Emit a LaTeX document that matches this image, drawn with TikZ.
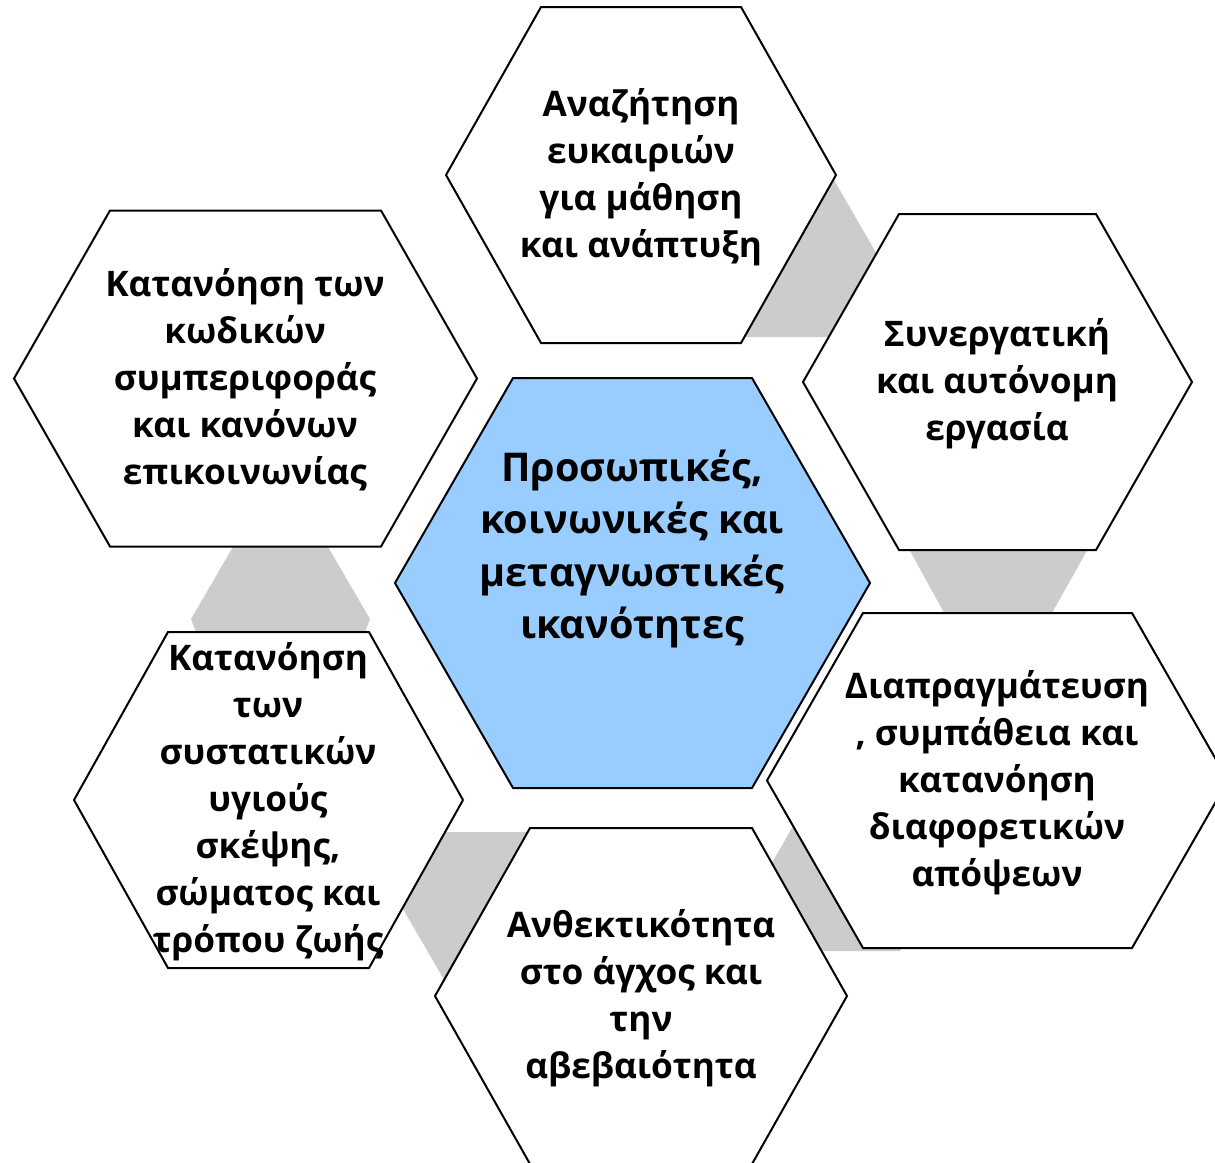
\documentclass[tikz,border=0pt]{standalone}
\usepackage{fontspec}
\setmainfont{Open Sans}
\definecolor{centerblue}{RGB}{153,204,255}
\definecolor{linkgrey}{RGB}{204,204,204}
\tikzset{
  hexline/.style={draw=black, line width=1pt, line join=miter, fill=white},
  centerhex/.style={hexline, fill=centerblue},
  link/.style={fill=linkgrey, draw=none},
  hextext/.style={align=center, font=\fontsize{17.6}{23.5}\selectfont\bfseries, inner sep=0pt},
  centertext/.style={align=center, font=\fontsize{19.8}{26.3}\selectfont\bfseries, inner sep=0pt}
}
% #1 style, #2 cx, #3 cy, #4 half width, #5 half height, #6 slant offset
\newcommand\hexagonshape[6]{%
  \path[#1] (#2-#4,#3) -- (#2-#4+#6,#3-#5) -- (#2+#4-#6,#3-#5) -- (#2+#4,#3)
    -- (#2+#4-#6,#3+#5) -- (#2-#4+#6,#3+#5) -- cycle;}
\begin{document}
\begin{tikzpicture}[x=0.5pt,y=-0.5pt]
\path[use as bounding box] (0,0) rectangle (1215,1162);
\clip (0,0) rectangle (1215,1162);
% grey links
\path[link] (826,166) -- (890,277) -- (860,337) -- (720,337) -- cycle;
\path[link] (904,540) -- (1093,540) -- (1048,620) -- (948,620) -- cycle;
\path[link] (808,800) -- (765,875) -- (790,951) -- (900,951) -- (910,935) -- cycle;
\path[link] (440,832) -- (560,832) -- (560,900) -- (450,990) -- (392,890) -- cycle;
\path[link] (237,540) -- (324,540) -- (370,619) -- (362,640) -- (199,640) -- (191,619) -- cycle;
% hexagons
\hexagonshape{hexline}{641}{175}{195}{168}{95}
\hexagonshape{hexline}{997.5}{382}{194.5}{168}{96}
\hexagonshape{hexline}{997.5}{780.5}{230.5}{167.5}{96}
\hexagonshape{hexline}{641}{996}{206}{168}{95}
\hexagonshape{hexline}{268.5}{800}{194.5}{168}{94}
\hexagonshape{hexline}{245.5}{378.5}{231.5}{168}{96}
\hexagonshape{centerhex}{632.5}{583}{237.5}{205}{118}
% texts
\node[centertext] (center) at (632,549) {Προσωπικές,\\κοινωνικές και\\μεταγνωστικές\\ικανότητες};
\node[hextext] (top) at (641,177) {Αναζήτηση\\ευκαιριών\\για μάθηση\\και ανάπτυξη};
\node[hextext] (topright) at (997,384) {Συνεργατική\\και αυτόνομη\\εργασία};
\node[hextext] (botright) at (997,783) {Διαπραγμάτευση\\, συμπάθεια και\\κατανόηση\\διαφορετικών\\απόψεων};
\node[hextext] (bottom) at (641,998) {Ανθεκτικότητα\\στο άγχος και\\την\\αβεβαιότητα};
\node[hextext] (botleft) at (268,802) {Κατανόηση\\των\\συστατικών\\υγιούς\\σκέψης,\\σώματος και\\τρόπου ζωής};
\node[hextext] (topleft) at (245,380) {Κατανόηση των\\κωδικών\\συμπεριφοράς\\και κανόνων\\επικοινωνίας};
\end{tikzpicture}
\end{document}
